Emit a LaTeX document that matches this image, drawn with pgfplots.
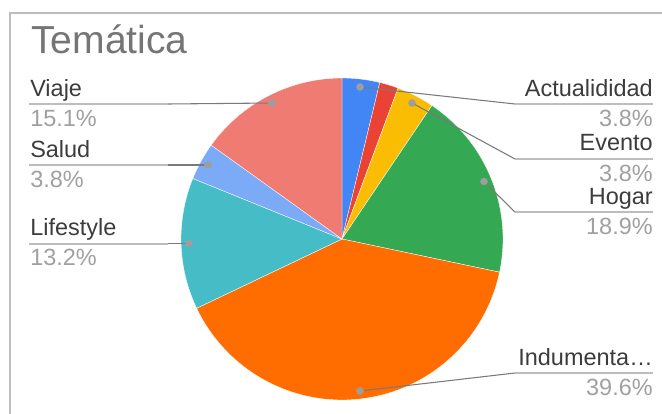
\documentclass[border=0pt]{standalone}
\usepackage{pgfplots}
\pgfplotsset{compat=1.18}
\usepackage{fontspec}
\setmainfont{Liberation Sans}
\definecolor{gblue}{HTML}{4285F4}
\definecolor{gred}{HTML}{EA4335}
\definecolor{gyellow}{HTML}{FBBC04}
\definecolor{ggreen}{HTML}{34A853}
\definecolor{gorange}{HTML}{FF6D01}
\definecolor{gteal}{HTML}{46BDC6}
\definecolor{glblue}{HTML}{7BAAF7}
\definecolor{gsalmon}{HTML}{F07B72}
\definecolor{framegray}{HTML}{BDBDBD}
\definecolor{titlegray}{HTML}{757575}
\definecolor{namegray}{HTML}{3C3C3C}
\definecolor{pctgray}{HTML}{A0A0A0}
\definecolor{uline}{HTML}{BDBDBD}
\definecolor{leader}{HTML}{7A7A7A}
\definecolor{dotgray}{HTML}{9E9E9E}
\newcommand\lbl{\fontsize{17.6}{20}\selectfont}
% counts: Actualididad 2, (sin etiqueta) 1, Evento 2, Hogar 10, Indumentaria 21,
% Lifestyle 7, Salud 2, Viaje 8  (total 53); angles clockwise from 12 o'clock
\begin{document}
\begin{tikzpicture}
\begin{axis}[name=ax, x=0.75pt, y=0.75pt, xmin=0, xmax=662, ymin=0, ymax=414,
  y dir=reverse, hide axis, clip=false]
% frame
\addplot[draw=framegray, line width=1.5pt] coordinates {(10,420) (10,13) (670,13)};
% slices
\addplot[fill=gblue,   draw=white, line width=0.25pt, domain=76.415:90,      samples=20] ({342+161*cos(x)},{239-161*sin(x)}) -- (342,239) -- cycle;
\addplot[fill=gred,    draw=white, line width=0.25pt, domain=69.623:76.415,  samples=12] ({342+161*cos(x)},{239-161*sin(x)}) -- (342,239) -- cycle;
\addplot[fill=gyellow, draw=white, line width=0.25pt, domain=56.038:69.623,  samples=20] ({342+161*cos(x)},{239-161*sin(x)}) -- (342,239) -- cycle;
\addplot[fill=ggreen,  draw=white, line width=0.25pt, domain=-11.887:56.038, samples=60] ({342+161*cos(x)},{239-161*sin(x)}) -- (342,239) -- cycle;
\addplot[fill=gorange, draw=white, line width=0.25pt, domain=-154.528:-11.887, samples=100] ({342+161*cos(x)},{239-161*sin(x)}) -- (342,239) -- cycle;
\addplot[fill=gteal,   draw=white, line width=0.25pt, domain=-202.075:-154.528, samples=40] ({342+161*cos(x)},{239-161*sin(x)}) -- (342,239) -- cycle;
\addplot[fill=glblue,  draw=white, line width=0.25pt, domain=-215.660:-202.075, samples=20] ({342+161*cos(x)},{239-161*sin(x)}) -- (342,239) -- cycle;
\addplot[fill=gsalmon, draw=white, line width=0.25pt, domain=-270:-215.660,  samples=50] ({342+161*cos(x)},{239-161*sin(x)}) -- (342,239) -- cycle;
% underlines
\addplot[draw=uline, line width=1.5pt] coordinates {(29,104) (168,104)};
\addplot[draw=uline, line width=1.5pt] coordinates {(29,165) (168,165)};
\addplot[draw=uline, line width=1.5pt] coordinates {(29,243.5) (168,243.5)};
\addplot[draw=uline, line width=1.5pt] coordinates {(515,104) (653,104)};
\addplot[draw=uline, line width=1.5pt] coordinates {(515,159) (653,159)};
\addplot[draw=uline, line width=1.5pt] coordinates {(515,212) (653,212)};
\addplot[draw=uline, line width=1.5pt] coordinates {(515,373) (653,373)};
% leader lines
\addplot[draw=leader, line width=0.8pt] coordinates {(272,103) (168,104)};
\addplot[draw=leader, line width=0.8pt] coordinates {(208,165) (168,165)};
\addplot[draw=leader, line width=0.8pt] coordinates {(189,243.5) (168,243.5)};
\addplot[draw=leader, line width=0.8pt] coordinates {(360,87) (515,104)};
\addplot[draw=leader, line width=0.8pt] coordinates {(412,103) (515,159)};
\addplot[draw=leader, line width=0.8pt] coordinates {(484,181.5) (515,212)};
\addplot[draw=leader, line width=0.8pt] coordinates {(360,391) (515,373)};
% dots
\addplot[only marks, mark=*, mark size=2.6pt, mark options={fill=dotgray, draw=dotgray}]
  coordinates {(360,87) (412,103) (484,181.5) (360,391) (189,243.5) (208,165) (272,103)};
% title
\node[anchor=base west, inner sep=0pt, font=\fontsize{29.3}{32}\selectfont, text=titlegray] at (31,53) {Temática};
% left labels
\node[anchor=base west, inner sep=0pt, font=\lbl, text=namegray] at (30,96) {Viaje};
\node[anchor=base west, inner sep=0pt, font=\lbl, text=pctgray]  at (30,126) {15.1\%};
\node[anchor=base west, inner sep=0pt, font=\lbl, text=namegray] at (30,157) {Salud};
\node[anchor=base west, inner sep=0pt, font=\lbl, text=pctgray]  at (30,187) {3.8\%};
\node[anchor=base west, inner sep=0pt, font=\lbl, text=namegray] at (30,235.5) {Lifestyle};
\node[anchor=base west, inner sep=0pt, font=\lbl, text=pctgray]  at (30,265.5) {13.2\%};
% right labels
\node[anchor=base east, inner sep=0pt, font=\lbl, text=namegray] at (653,96) {Actualididad};
\node[anchor=base east, inner sep=0pt, font=\lbl, text=pctgray]  at (653,126) {3.8\%};
\node[anchor=base east, inner sep=0pt, font=\lbl, text=namegray] at (653,151) {Evento};
\node[anchor=base east, inner sep=0pt, font=\lbl, text=pctgray]  at (653,181) {3.8\%};
\node[anchor=base east, inner sep=0pt, font=\lbl, text=namegray] at (653,204) {Hogar};
\node[anchor=base east, inner sep=0pt, font=\lbl, text=pctgray]  at (653,234) {18.9\%};
\node[anchor=base east, inner sep=0pt, font=\lbl, text=namegray] at (653,365) {Indumenta…};
\node[anchor=base east, inner sep=0pt, font=\lbl, text=pctgray]  at (653,395) {39.6\%};
\end{axis}
\pgfresetboundingbox
\useasboundingbox (ax.south west) rectangle (ax.north east);
\end{tikzpicture}
\end{document}
